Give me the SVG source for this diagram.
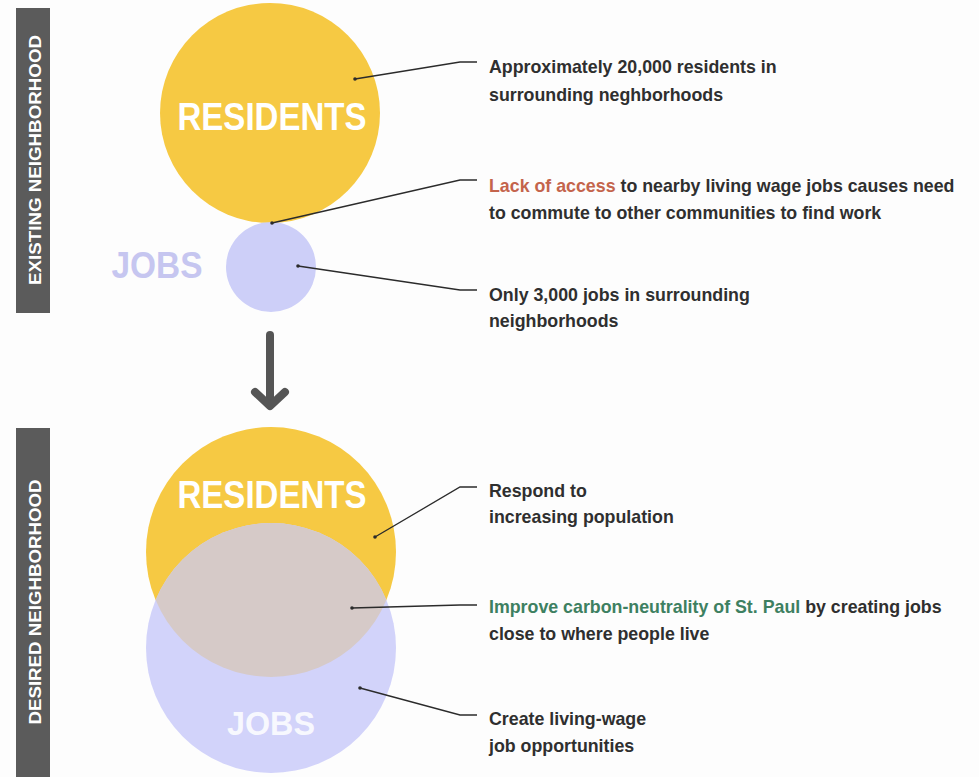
<svg xmlns="http://www.w3.org/2000/svg" width="979" height="777" viewBox="0 0 979 777">
  <style>
    .bar { fill: #5b5b5b; }
    .barText { font-family: "Liberation Sans", Arial, sans-serif; font-weight: bold; font-size: 17px; fill: #ffffff; text-anchor: middle; }
    .big { font-family: "Liberation Sans", Arial, sans-serif; font-weight: bold; text-anchor: middle; }
    .note { font-family: "Liberation Sans", Arial, sans-serif; font-weight: bold; font-size: 17.8px; fill: #2f2f2f; }
    .red { fill: #c4644c; }
    .green { fill: #3d8061; }
    .lead { fill: none; stroke: #2b2b2b; stroke-width: 1.3; }
    .dot { fill: #2b2b2b; }
  </style>

  <rect width="979" height="777" fill="#fdfdfd"/>

  <!-- Section labels -->
  <g id="label-existing">
    <rect class="bar" x="16" y="8" width="34" height="305"/>
    <text class="barText" transform="translate(41 160) rotate(-90)" textLength="250" lengthAdjust="spacingAndGlyphs">EXISTING NEIGHBORHOOD</text>
  </g>
  <g id="label-desired">
    <rect class="bar" x="16" y="428" width="34" height="349"/>
    <text class="barText" transform="translate(41 602) rotate(-90)" textLength="245" lengthAdjust="spacingAndGlyphs">DESIRED NEIGHBORHOOD</text>
  </g>

  <!-- Existing: residents -->
  <g id="existing-residents">
    <circle cx="270" cy="113" r="110" fill="#f6c943"/>
    <text class="big" x="272" y="130" font-size="38" fill="#ffffff" textLength="189" lengthAdjust="spacingAndGlyphs">RESIDENTS</text>
  </g>

  <!-- Existing: jobs -->
  <g id="existing-jobs">
    <circle cx="271" cy="267" r="45" fill="#cdcff8"/>
    <text class="big" x="157" y="278" font-size="36" fill="#c6c6f0" textLength="91" lengthAdjust="spacingAndGlyphs">JOBS</text>
  </g>

  <!-- Transition arrow -->
  <g id="transition-arrow" fill="none" stroke="#555555" stroke-width="8" stroke-linecap="round" stroke-linejoin="round">
    <line x1="270" y1="335" x2="270" y2="404"/>
    <polyline points="255,392 270,406 285,392"/>
  </g>

  <!-- Desired: overlapping residents and jobs -->
  <g id="desired-venn">
    <defs>
      <clipPath id="resClip">
        <circle cx="271" cy="552" r="125"/>
      </clipPath>
    </defs>
    <circle cx="271" cy="552" r="125" fill="#f6c943"/>
    <circle cx="271" cy="648" r="125" fill="#d2d3fa"/>
    <circle cx="271" cy="648" r="125" fill="#d6cac8" clip-path="url(#resClip)"/>
    <text class="big" x="272" y="508" font-size="38" fill="#ffffff" textLength="189" lengthAdjust="spacingAndGlyphs">RESIDENTS</text>
    <text class="big" x="271" y="735" font-size="34" fill="#ffffff" fill-opacity="0.85" textLength="88" lengthAdjust="spacingAndGlyphs">JOBS</text>
  </g>

  <!-- Leader lines -->
  <g id="connectors">
    <polyline class="lead" points="355,79 460,62 477,62"/>
    <circle class="dot" cx="355" cy="79" r="1.8"/>
    <polyline class="lead" points="272,223 460,180 477,180"/>
    <circle class="dot" cx="272" cy="223" r="1.8"/>
    <polyline class="lead" points="298,266 460,290 477,290"/>
    <circle class="dot" cx="298" cy="266" r="1.8"/>
    <polyline class="lead" points="375,537 460,487 477,487"/>
    <circle class="dot" cx="375" cy="537" r="1.8"/>
    <polyline class="lead" points="352,608 460,605 477,605"/>
    <circle class="dot" cx="352" cy="608" r="1.8"/>
    <polyline class="lead" points="360,688 460,715 477,715"/>
    <circle class="dot" cx="360" cy="688" r="1.8"/>
  </g>

  <!-- Annotations -->
  <g id="note-residents">
    <text class="note" x="489" y="73">Approximately 20,000 residents in</text>
    <text class="note" x="489" y="101">surrounding neghborhoods</text>
  </g>
  <g id="note-access">
    <text class="note" x="489" y="192"><tspan class="red">Lack of access</tspan> to nearby living wage jobs causes need</text>
    <text class="note" x="489" y="219">to commute to other communities to find work</text>
  </g>
  <g id="note-jobs">
    <text class="note" x="489" y="301">Only 3,000 jobs in surrounding</text>
    <text class="note" x="489" y="327">neighborhoods</text>
  </g>
  <g id="note-population">
    <text class="note" x="489" y="497">Respond to</text>
    <text class="note" x="489" y="523">increasing population</text>
  </g>
  <g id="note-carbon">
    <text class="note" x="489" y="613"><tspan class="green">Improve carbon-neutrality of St. Paul</tspan> by creating jobs</text>
    <text class="note" x="489" y="640">close to where people live</text>
  </g>
  <g id="note-wage">
    <text class="note" x="489" y="725">Create living-wage</text>
    <text class="note" x="489" y="752">job opportunities</text>
  </g>
</svg>
